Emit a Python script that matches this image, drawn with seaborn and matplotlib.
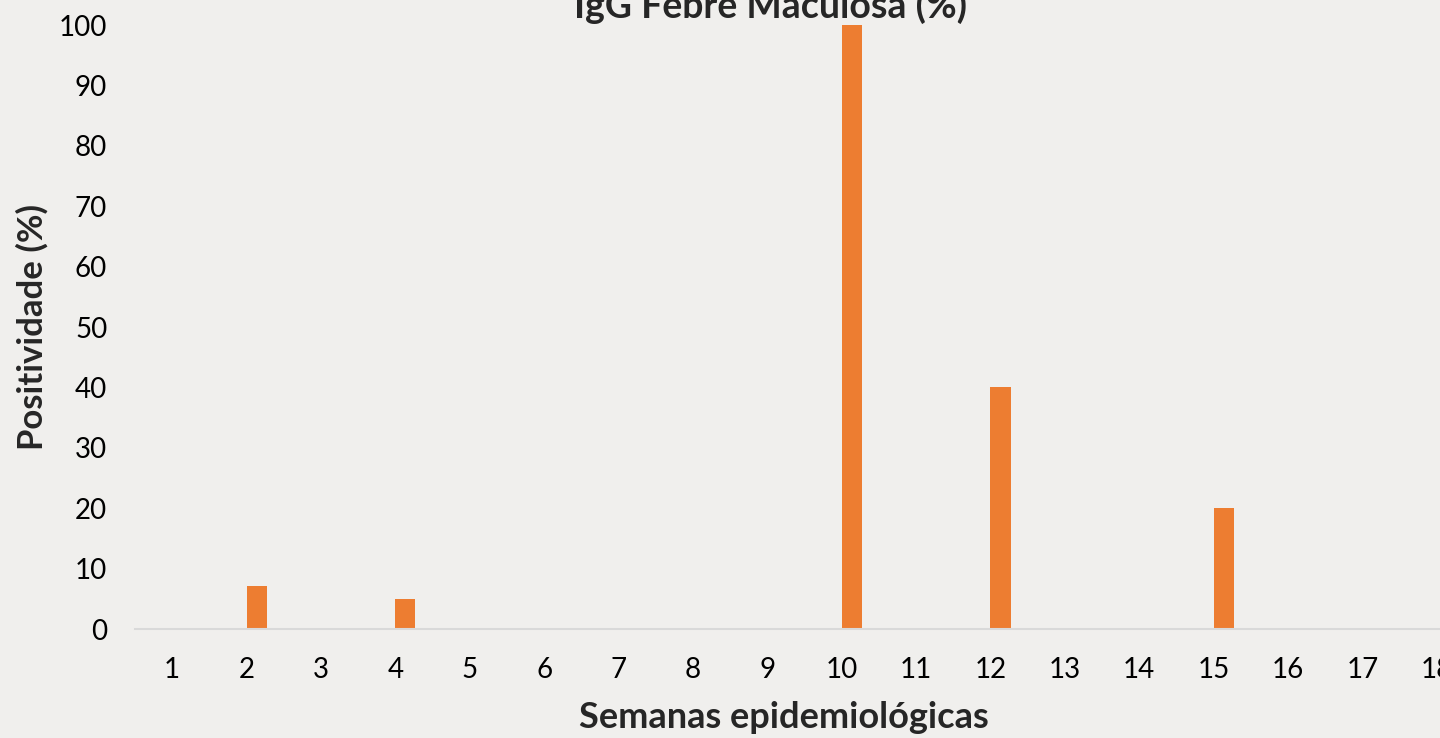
import seaborn as sns
import numpy as np
import pandas as pd
import matplotlib.pyplot as plt

semanas = [str(x) for x in range(1, 19)]
igg_positividade = [0, 7.1, 0, 5, 0, 0, 0, 0, 0, 100, 0, 40, 0, 0, 20, 0, 0, 0]
# primeira serie do grafico original fica vazia (so desloca as barras)
serie_vazia = [0] * 18

fundo = "#F0EFED"
laranja = "#ED7D31"

df = pd.DataFrame({
    "semana": semanas * 2,
    "valor": serie_vazia + igg_positividade,
    "serie": ["vazia"] * 18 + ["IgG"] * 18,
})

sns.set_style("white")
plt.rcParams["font.family"] = ["Lato", "DejaVu Sans"]

fig = plt.figure(figsize=(14.4, 7.38), dpi=100, facecolor=fundo)
ax = fig.add_axes([135 / 1440, 1 - 629 / 738, (1474 - 135) / 1440, (629 - 25) / 738])
ax.set_facecolor(fundo)

sns.barplot(data=df, x="semana", y="valor", hue="serie",
            palette={"vazia": fundo, "IgG": laranja}, saturation=1,
            width=0.54, legend=False, ax=ax, linewidth=0)

ax.set_ylim(0, 100)
ax.set_yticks(np.arange(0, 101, 10))
ax.tick_params(axis="both", length=0, labelsize=20, colors="black")
ax.tick_params(axis="x", pad=20)
ax.tick_params(axis="y", pad=20)
for s in ["top", "right", "left"]:
    ax.spines[s].set_visible(False)
ax.spines["bottom"].set_color("#D9D9D9")
ax.spines["bottom"].set_linewidth(1.5)
ax.set_xlabel("")
ax.set_ylabel("")

fig.text(771 / 1440, 1 - 6 / 738, "IgG Febre Maculosa (%)", ha="center", va="center",
         fontsize=27, fontweight="bold")
fig.text(784 / 1440, 1 - 718 / 738, "Semanas epidemiológicas", ha="center", va="center",
         fontsize=26, fontweight="bold")
fig.text(32 / 1440, 1 - 327 / 738, "Positividade (%)", ha="center", va="center",
         rotation=90, fontsize=25, fontweight="bold")

plt.savefig("out.png", dpi=100, facecolor=fundo)
plt.close()
